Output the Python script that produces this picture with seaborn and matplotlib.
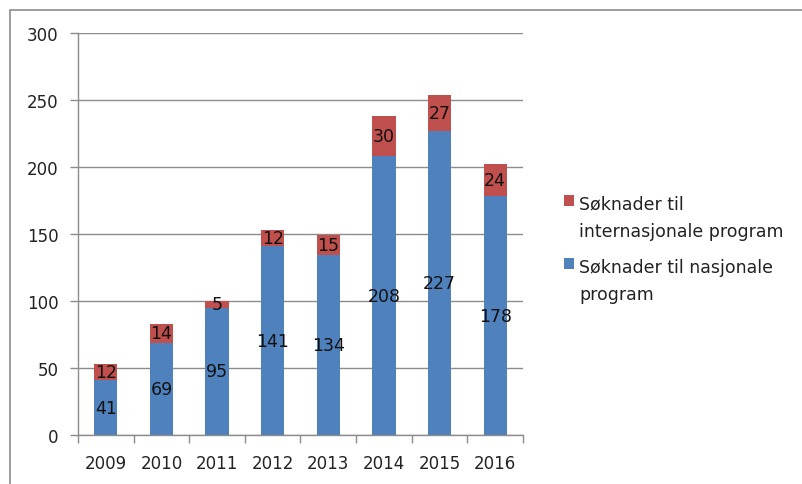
import pandas as pd
import matplotlib.pyplot as plt
import seaborn as sns
from matplotlib.patches import Rectangle

# data
years = ["2009", "2010", "2011", "2012", "2013", "2014", "2015", "2016"]
nasjonale = [41, 69, 95, 141, 134, 208, 227, 178]
internasjonale = [12, 14, 5, 12, 15, 30, 27, 24]

df = pd.DataFrame({"year": years, "nasj": nasjonale, "intl": internasjonale})
df["total"] = df["nasj"] + df["intl"]

BLUE = "#4F81BD"
RED = "#C0504D"
GRID = "#8c8c8c"

sns.set_style("white")
plt.rcParams["font.family"] = ["DejaVu Sans"]

fig = plt.figure(figsize=(8.03, 4.85), dpi=100)
ax = fig.add_axes([78 / 803, 1 - 436 / 485, (523 - 78) / 803, (436 - 34) / 485])

# red = total on bottom layer, blue = national on top
sns.barplot(data=df, x="year", y="total", color=RED, width=0.42, ax=ax,
            saturation=1, linewidth=0, label="Søknader til\ninternasjonale program")
sns.barplot(data=df, x="year", y="nasj", color=BLUE, width=0.42, ax=ax,
            saturation=1, linewidth=0, label="Søknader til nasjonale\nprogram")
if ax.get_legend() is not None:
    ax.get_legend().remove()

for i, (n, t) in enumerate(zip(df["nasj"], df["intl"])):
    ax.text(i, n / 2, str(n), ha="center", va="center", fontsize=12.5, color="#111111")
    ax.text(i, n + t / 2, str(t), ha="center", va="center", fontsize=12.5, color="#111111")

ax.set_ylim(0, 300)
ax.set_xlim(-0.5, len(years) - 0.5)
ax.set_yticks(range(0, 301, 50))
ax.yaxis.grid(True, color=GRID, linewidth=1)
ax.set_axisbelow(True)
ax.set_xlabel("")
ax.set_ylabel("")

for s in ["top", "right"]:
    ax.spines[s].set_visible(False)
for s in ["left", "bottom"]:
    ax.spines[s].set_color(GRID)
    ax.spines[s].set_linewidth(1)

# x ticks between categories, labels at centers
ax.set_xticks(range(len(years)))
ax.set_xticklabels(years)
ax.set_xticks([i - 0.5 for i in range(len(years) + 1)], minor=True)
ax.tick_params(axis="x", which="minor", bottom=True, length=6, width=1,
               color=GRID, direction="out")
ax.tick_params(axis="x", which="major", bottom=False, length=0, labelsize=12,
               pad=14, labelcolor="#222222")
ax.tick_params(axis="y", which="major", left=True, length=6, width=1,
               color=GRID, direction="out", labelsize=12, pad=8, labelcolor="#222222")

handles, labels = ax.get_legend_handles_labels()
leg = fig.legend(handles, labels, loc="center left", bbox_to_anchor=(548 / 803, 1 - 250 / 485),
                 frameon=False, fontsize=12.5, handlelength=0.6, handleheight=0.6,
                 handletextpad=0.3, labelspacing=1.0)
for t in leg.get_texts():
    t.set_linespacing(1.7)
    t.set_color("#222222")
# handle next to the first line of each entry, like Excel does
try:
    for col in leg._legend_handle_box.get_children():
        for row in col.get_children():
            row.align = "top"
except AttributeError:
    pass

# outer chart border (cropped at right and bottom)
fig.patches.append(Rectangle((10 / 803, -0.1), 1.2, 1 - 11 / 485 + 0.1,
                             transform=fig.transFigure, fill=False,
                             edgecolor="#8c8c8c", linewidth=1.2))

fig.savefig("out.png", dpi=100)
